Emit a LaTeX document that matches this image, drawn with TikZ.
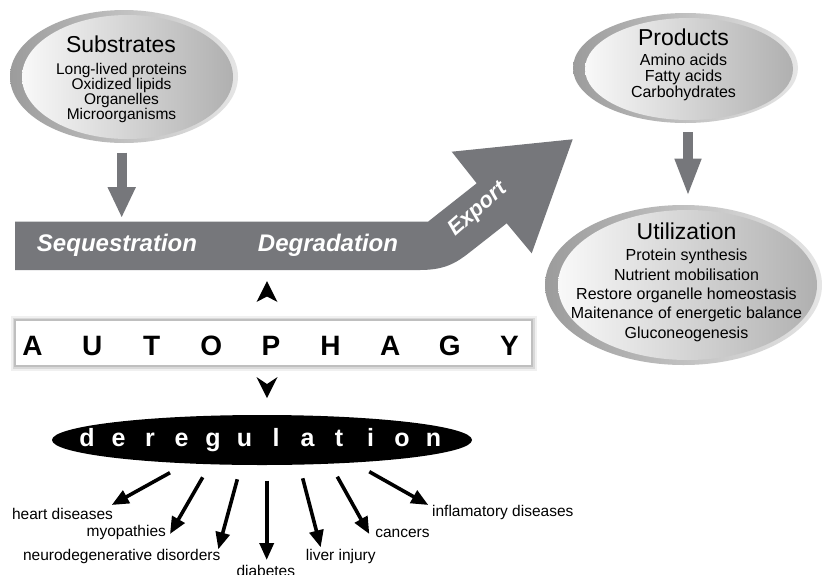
\documentclass[tikz,border=0pt]{standalone}
\usepackage{fontspec}
\setmainfont{Liberation Sans}
\usetikzlibrary{shapes.geometric,arrows.meta,calc}
\definecolor{bandgray}{RGB}{118,119,123}
\newcommand{\autoL}[1]{\makebox[59.6pt]{#1}}
\newcommand{\dereL}[1]{\makebox[31.5pt]{#1}}
\begin{document}
\begin{tikzpicture}[x=1pt,y=-1pt,
  ringout/.style={ellipse, inner sep=0pt, left color=gray!78, right color=gray!20},
  ringin/.style={ellipse, inner sep=0pt, left color=gray!5, middle color=gray!18, right color=gray!62},
  title/.style={font=\fontsize{23}{23}\selectfont, anchor=base, inner sep=0pt},
  items/.style={align=center, anchor=north, inner sep=0pt},
  bandlabel/.style={text=white, font=\fontsize{24}{24}\selectfont\bfseries\itshape, inner sep=0pt},
  fatarrow/.style={draw=bandgray, line width=10pt, -{Triangle[length=31pt,width=26pt]}},
  fatarrowb/.style={draw=bandgray, line width=10pt, -{Triangle[length=38pt,width=24pt]}},
  disarrow/.style={line width=3.6pt, -{Triangle[length=17pt,width=14pt]}},
  disease/.style={font=\fontsize{15.5}{15.5}\selectfont, inner sep=0pt, anchor=base},
]
\useasboundingbox (0,0) rectangle (823,574);
\fill[white] (0,0) rectangle (823,574);

% ---- Substrates ----
\node[ringout, minimum width=228, minimum height=133] (subout) at (124,76.5) {};
\node[ringin, minimum width=211, minimum height=124] (subin) at (127.5,77) {};
\node[title] (subtitle) at (121,52) {Substrates};
\node[items, font=\fontsize{15.5}{15}\selectfont] (subitems) at (121.5,62.8)
  {Long-lived proteins\\Oxidized lipids\\Organelles\\Microorganisms};

% ---- Products ----
\node[ringout, minimum width=225, minimum height=110] (proout) at (685.5,68) {};
\node[ringin, minimum width=208, minimum height=102] (proin) at (689,69) {};
\node[title] (protitle) at (683.5,45) {Products};
\node[items, font=\fontsize{16}{15.8}\selectfont] (proitems) at (683.5,54)
  {Amino acids\\Fatty acids\\Carbohydrates};

% ---- Utilization ----
\node[ringout, minimum width=277, minimum height=160] (utiout) at (683.5,285) {};
\node[ringin, minimum width=259, minimum height=150] (utiin) at (687.5,285) {};
\node[title] (utititle) at (686.5,239) {Utilization};
\node[items, font=\fontsize{16}{19.4}\selectfont] (utiitems) at (686.5,249)
  {Protein synthesis\\Nutrient mobilisation\\Restore organelle homeostasis\\Maitenance of energetic balance\\Gluconeogenesis};

% ---- big band arrow ----
\fill[bandgray] (15,221.7) -- (428,221.7) -- (476.7,183.3) -- (451.7,151.7)
  -- (572.7,139.3) -- (531.7,253.3) -- (506.7,223.3) -- (472,250.5)
  .. controls (458,261.5) and (447,270) .. (420,270) -- (15,270) -- cycle;
\node[bandlabel, anchor=base] (seq) at (117,251.7) {Sequestration};
\node[bandlabel, anchor=base] (deg) at (328,251.7) {Degradation};
\node[bandlabel, font=\fontsize{22}{22}\selectfont\bfseries\itshape, rotate=41] (exp) at (478,210) {Export};

% ---- grey arrows ----
\coordinate (s1) at (121.7,152.7);
\coordinate (s2) at (121.7,218);
\draw[fatarrow] (s1) -- (s2);
\coordinate (p1) at (688,132);
\coordinate (p2) at (688,196.7);
\draw[fatarrowb] (p1) -- (p2);

% ---- AUTOPHAGY box ----
\node[fill=white, draw=gray!50, line width=1.6pt, minimum width=517, minimum height=46,
      inner sep=0pt, preaction={draw=gray!12, line width=9pt}, preaction={draw=gray!30, line width=5pt}] (box) at (273.5,343) {};
\node[font=\fontsize{28}{28}\selectfont\bfseries, anchor=base, inner sep=0pt] (autotxt) at (271,355)
  {\makebox[0pt]{\autoL{A}\autoL{U}\autoL{T}\autoL{O}\autoL{P}\autoL{H}\autoL{A}\autoL{G}\autoL{Y}}};

% small arrowheads
\fill (267,281) -- (277.5,302) -- (267,296.5) -- (256.5,302) -- cycle;
\fill (267,398) -- (277.5,377) -- (267,384) -- (256.5,377) -- cycle;

% ---- deregulation ----
\node[ellipse, fill=black, minimum width=420, minimum height=50, inner sep=0pt] (dereg) at (262,440) {};
\node[text=white, font=\fontsize{25}{25}\selectfont\bfseries, anchor=base, inner sep=0pt] (deregtxt) at (260.3,446.7)
  {\makebox[0pt]{\dereL{d}\dereL{e}\dereL{r}\dereL{e}\dereL{g}\dereL{u}\dereL{l}\dereL{a}\dereL{t}\dereL{i}\dereL{o}\dereL{n}}};

% ---- disease arrows ----
\coordinate (a1s) at (170,472.7);   \coordinate (a1e) at (111.7,505);
\coordinate (a2s) at (202.7,477.3); \coordinate (a2e) at (170,534);
\coordinate (a3s) at (237.3,479.3); \coordinate (a3e) at (218.3,549.3);
\coordinate (a4s) at (266.7,480.7); \coordinate (a4e) at (266.7,560);
\coordinate (a5s) at (302.7,478.3); \coordinate (a5e) at (320.7,547.3);
\coordinate (a6s) at (337.3,476.7); \coordinate (a6e) at (369.3,534);
\coordinate (a7s) at (369.3,471.7); \coordinate (a7e) at (428.3,505);
\foreach \i in {1,...,7} {\draw[disarrow] (a\i s) -- (a\i e);}

\node[disease] (heart) at (62.5,519.3) {heart diseases};
\node[disease] (myo) at (126.3,536.7) {myopathies};
\node[disease] (neuro) at (121.7,560.7) {neurodegenerative disorders};
\node[disease] (diab) at (265.8,576.3) {diabetes};
\node[disease] (liver) at (340.8,560.7) {liver injury};
\node[disease] (canc) at (402.5,537) {cancers};
\node[disease] (infl) at (502.8,516) {inflamatory diseases};
\end{tikzpicture}
\end{document}
